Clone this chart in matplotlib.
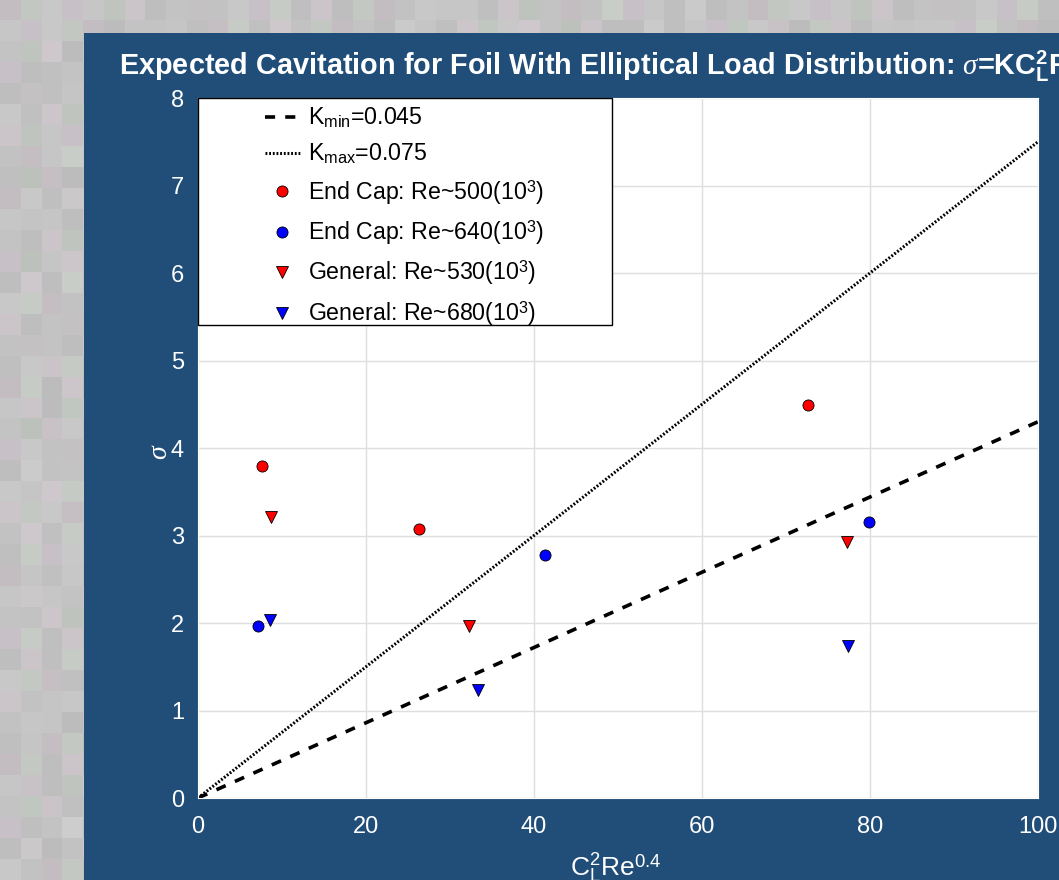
import numpy as np
import matplotlib
matplotlib.use("Agg")
import matplotlib.pyplot as plt
from matplotlib.patches import Rectangle

plt.rcParams['font.family'] = ['Liberation Sans', 'DejaVu Sans']
plt.rcParams['mathtext.fontset'] = 'custom'
plt.rcParams['mathtext.rm'] = 'Liberation Sans'
plt.rcParams['mathtext.bf'] = 'Liberation Sans:bold'
plt.rcParams['mathtext.it'] = 'Liberation Serif:italic'

# ---- data ----
endcap500_x = [7.6, 26.3, 72.6]
endcap500_y = [3.79, 3.08, 4.49]
endcap640_x = [7.1, 41.3, 79.9]
endcap640_y = [1.97, 2.78, 3.16]
general530_x = [8.7, 32.3, 77.3]
general530_y = [3.21, 1.97, 2.93]
general680_x = [8.6, 33.3, 77.4]
general680_y = [2.03, 1.23, 1.74]

line_x = [0, 100]
kmin_y = [0, 4.3]
kmax_y = [0, 7.5]

xticks = [0, 20, 40, 60, 80, 100]
yticks = [0, 1, 2, 3, 4, 5, 6, 7, 8]

labels = [r'K$_{\mathrm{min}}$=0.045', r'K$_{\mathrm{max}}$=0.075',
          r'End Cap: Re~500(10$^{\mathrm{3}}$)', r'End Cap: Re~640(10$^{\mathrm{3}}$)',
          r'General: Re~530(10$^{\mathrm{3}}$)', r'General: Re~680(10$^{\mathrm{3}}$)']

W, H = 1059, 880
fig = plt.figure(figsize=(W / 100, H / 100), dpi=100)

# background mosaic + panel
bg = fig.add_axes([0, 0, 1, 1], zorder=-10)
bg.set_axis_off()
ny, nx = 42, 51
ii, jj = np.meshgrid(np.arange(ny), np.arange(nx), indexing='ij')
v = ((ii * 7 + jj * 13 + (ii * jj) % 5) % 9) / 9.0
img = np.zeros((ny, nx, 3))
base = 0.74 + 0.05 * v
img[..., 0] = base + 0.025 * ((ii + 2 * jj) % 3 == 0)
img[..., 1] = base + 0.02 * ((2 * ii + jj) % 4 == 1)
img[..., 2] = base + 0.02 * ((ii + 2 * jj) % 3 == 0)
img = np.clip(img, 0, 1)
bg.imshow(img, extent=[0, 1, 0, 1], aspect='auto', interpolation='nearest')
bg.set_xlim(0, 1)
bg.set_ylim(0, 1)
bg.add_patch(Rectangle((84 / W, 0), 1, 1 - 33 / H, transform=bg.transAxes,
                       facecolor='#204e78', edgecolor='none'))

ax = fig.add_axes([198 / W, 1 - 798 / H, 840 / W, 700 / H])
ax.set_facecolor('white')

ax.plot(line_x, kmin_y, color='black', lw=2.6, ls=(0, (2.8, 2.8)), label=labels[0])
ax.plot(line_x, kmax_y, color='black', lw=2.2, ls=(0, (0.6, 0.6)), label=labels[1])
ms = 8
ax.plot(endcap500_x, endcap500_y, 'o', ms=ms, mfc='red', mec='black', mew=0.6, label=labels[2])
ax.plot(endcap640_x, endcap640_y, 'o', ms=ms, mfc='blue', mec='black', mew=0.6, label=labels[3])
ax.plot(general530_x, general530_y, 'v', ms=ms, mfc='red', mec='black', mew=0.6, label=labels[4])
ax.plot(general680_x, general680_y, 'v', ms=ms, mfc='blue', mec='black', mew=0.6, label=labels[5])

ax.set_xlim(0, 100)
ax.set_ylim(0, 8)
ax.set_xticks(xticks)
ax.set_yticks(yticks)
ax.grid(True, color='#dedede', lw=1)
ax.set_axisbelow(True)
for s in ax.spines.values():
    s.set_color('white')
ax.tick_params(axis='both', length=0, colors='white', labelsize=17)
ax.tick_params(axis='x', pad=13)
ax.tick_params(axis='y', pad=10)

# legend box (MATLAB-style, wide padding)
ax.add_patch(Rectangle((198 / W, 1 - 325 / H), (612 - 198) / W, (325 - 98) / H,
                       transform=fig.transFigure, facecolor='white', edgecolor='black',
                       lw=1.0, zorder=4, clip_on=False))
leg = ax.legend(loc='upper left', bbox_to_anchor=(265 / W, 1 - 106 / H),
                bbox_transform=fig.transFigure, borderaxespad=0, borderpad=0,
                fontsize=16.7, frameon=False, handlelength=1.5, handletextpad=0.35,
                labelspacing=0.5)
leg.set_zorder(5)

fig.text(618 / W, 1 - 66 / H,
         r'Expected Cavitation for Foil With Elliptical Load Distribution: $\sigma$=KC$_{\mathbf{L}}^{\mathbf{2}}$Re$^{\mathbf{0.4}}$',
         color='white', fontsize=20.8, fontweight='bold', ha='center', va='center')
fig.text(616 / W, 1 - 868 / H, r'C$_{\mathrm{L}}^{\mathrm{2}}$Re$^{\mathrm{0.4}}$',
         color='white', fontsize=19, ha='center', va='center')
fig.text(160 / W, 1 - 452 / H, r'$\sigma$', color='white', fontsize=20,
         rotation=90, ha='center', va='center')

fig.savefig('out.png', dpi=100)
